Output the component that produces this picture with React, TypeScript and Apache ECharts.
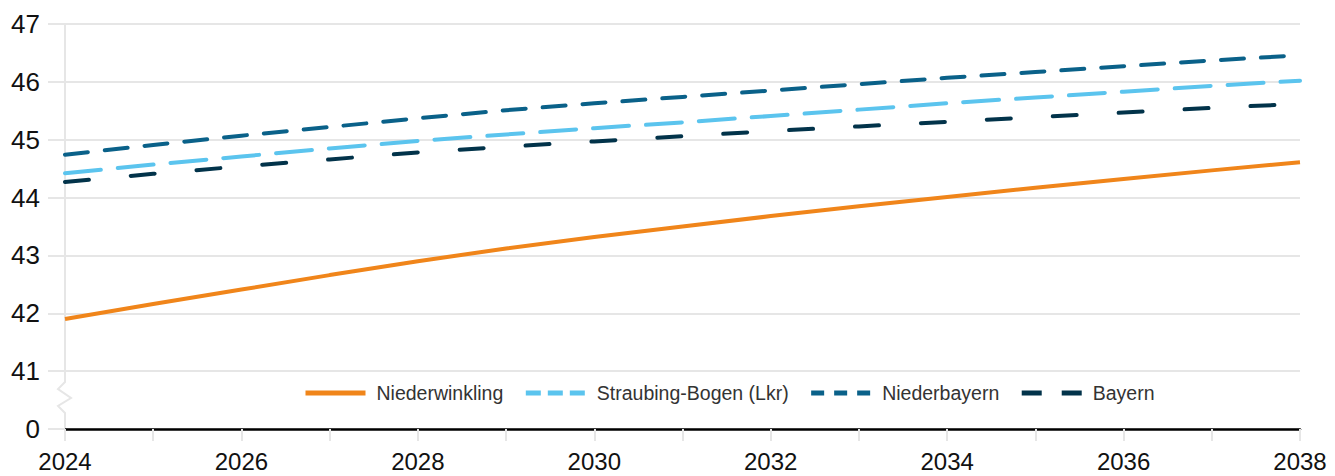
import React, { useEffect, useRef } from 'react';
import * as echarts from 'echarts';

const years = ['2024', '2025', '2026', '2027', '2028', '2029', '2030', '2031', '2032', '2033', '2034', '2035', '2036', '2037', '2038'];
const niederwinkling = [41.9, 42.16, 42.41, 42.66, 42.9, 43.12, 43.32, 43.5, 43.68, 43.85, 44.01, 44.17, 44.32, 44.47, 44.61];
const straubingBogen = [44.42, 44.57, 44.71, 44.85, 44.98, 45.09, 45.2, 45.3, 45.41, 45.52, 45.63, 45.73, 45.83, 45.93, 46.02];
const niederbayern = [44.74, 44.91, 45.07, 45.22, 45.37, 45.51, 45.63, 45.74, 45.85, 45.96, 46.07, 46.17, 46.27, 46.37, 46.46];
const bayern = [44.27, 44.41, 44.54, 44.66, 44.78, 44.88, 44.97, 45.06, 45.15, 45.23, 45.31, 45.39, 45.47, 45.55, 45.62];
const seriesNames = ['Niederwinkling', 'Straubing-Bogen (Lkr)', 'Niederbayern', 'Bayern'];
const yMin = 40; // shown as "0" (broken axis)
const yMax = 47;

const FONT = '"Liberation Sans", Arial, Helvetica, sans-serif';
const colors = ['#F0851A', '#5BC4EE', '#0A6189', '#02334A'];
const GRID_GREY = '#e6e6e6';

export default function App() {
  const ref = useRef<HTMLDivElement>(null);
  useEffect(() => {
    document.body.style.margin = '0';
    const chart = echarts.init(ref.current!, null, { renderer: 'svg' });
    const mk = (name: string, data: number[], color: string, type: any) => ({
      name,
      type: 'line',
      data,
      symbol: 'none',
      showSymbol: false,
      lineStyle: { color, width: 4, type, cap: type === 'solid' ? 'butt' : 'round' },
      itemStyle: { color },
    });
    const legendItem = (name: string, type: any) => ({
      name,
      itemStyle: { opacity: 0 },
      lineStyle: { width: 5, type, cap: 'butt' },
    });
    chart.setOption({
      animation: false,
      backgroundColor: '#fff',
      grid: { left: 65, right: 35, top: 24, bottom: 47, containLabel: false },
      xAxis: {
        type: 'category',
        data: years,
        boundaryGap: false,
        axisLine: { show: true, lineStyle: { color: '#000', width: 2.5 } },
        axisTick: { show: true, interval: 0, length: 12, lineStyle: { color: GRID_GREY, width: 2 } },
        axisLabel: { interval: 1, color: '#111', fontSize: 24, lineHeight: 24, fontFamily: FONT, margin: 20 },
        splitLine: { show: false },
      },
      yAxis: {
        type: 'value',
        min: yMin,
        max: yMax,
        interval: 1,
        axisLine: { show: true, lineStyle: { color: GRID_GREY, width: 2 } },
        axisTick: { show: true, length: 17, lineStyle: { color: GRID_GREY, width: 2 } },
        axisLabel: {
          color: '#111',
          fontSize: 26,
          fontFamily: FONT,
          margin: 25,
          formatter: (v: number) => (v === yMin ? '0' : String(v)),
        },
        splitLine: { show: true, lineStyle: { color: GRID_GREY, width: 2 } },
      },
      legend: {
        left: 303,
        top: 383,
        padding: 0,
        itemWidth: 60,
        itemHeight: 18,
        itemGap: 20,
        textStyle: { fontSize: 19.5, color: '#333', fontFamily: FONT, padding: [0, 0, 0, 6] },
        data: [
          legendItem(seriesNames[0], 'solid'),
          legendItem(seriesNames[1], [15, 7]),
          legendItem(seriesNames[2], [13, 10]),
          legendItem(seriesNames[3], [20, 20]),
        ],
      },
      graphic: [
        {
          type: 'rect',
          z: 100,
          shape: { x: 62, y: 381, width: 6, height: 33 },
          style: { fill: '#fff' },
        },
        {
          type: 'polyline',
          z: 101,
          shape: { points: [[65, 380], [65, 382], [58, 389], [71, 398], [58, 406], [65, 413], [65, 415]] },
          style: { stroke: GRID_GREY, lineWidth: 2, fill: 'none' },
        },
      ],
      series: [
        mk(seriesNames[0], niederwinkling, colors[0], 'solid'),
        mk(seriesNames[1], straubingBogen, colors[1], [36, 17]),
        mk(seriesNames[2], niederbayern, colors[2], [23, 17]),
        mk(seriesNames[3], bayern, colors[3], [24, 42]),
      ],
    });
    return () => chart.dispose();
  }, []);
  return <div ref={ref} style={{ width: 1335, height: 476 }} />;
}
